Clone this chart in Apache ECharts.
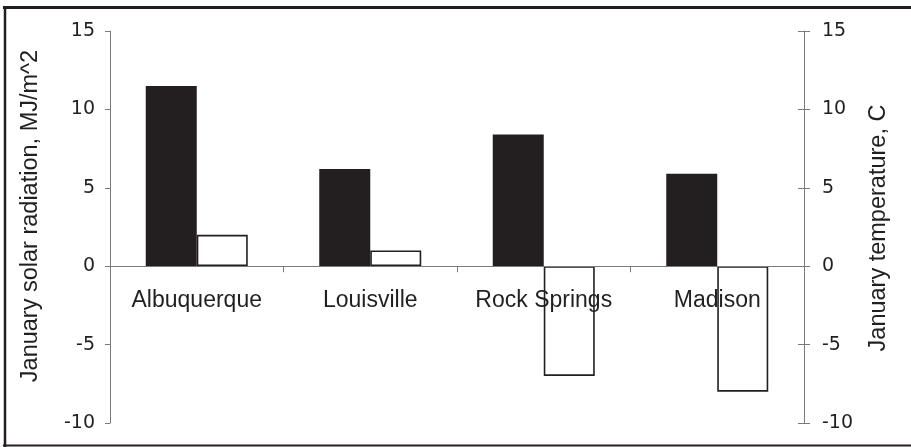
<!DOCTYPE html>
<html>
<head>
<meta charset="utf-8">
<script src="https://cdn.jsdelivr.net/npm/echarts@6/dist/echarts.min.js"></script>
<style>
  html, body { margin: 0; padding: 0; background: #fff; }
  #chart { width: 911px; height: 447px; }
</style>
</head>
<body>
<div id="chart"></div>
<script>
// City categories along the x axis
const cities = ['Albuquerque', 'Louisville', 'Rock Springs', 'Madison'];
// January mean daily solar radiation, MJ/m^2 (left axis)
const solarRadiation = [11.5, 6.2, 8.4, 5.9];
// January mean temperature, C (right axis)
const temperature = [2, 1, -7, -8];
// Shared value-axis range
const axisMin = -10;
const axisMax = 15;
const axisStep = 5;

const ink = '#231f20';
const axisGray = '#7a7a7a';
const tickFont = { fontFamily: 'DejaVu Sans', fontSize: 19, color: ink };

// plot area geometry
const gridTop = 31;
const gridHeight = 392;
// lift the category axis from the bottom edge up to the value 0
const zeroOffset = -gridHeight * (0 - axisMin) / (axisMax - axisMin);

const chart = echarts.init(document.getElementById('chart'), null, { renderer: 'canvas' });

chart.setOption({
  backgroundColor: '#ffffff',
  animation: false,
  grid: { left: 110, right: 107, top: gridTop, height: gridHeight, containLabel: false },
  xAxis: {
    type: 'category',
    data: cities,
    position: 'bottom',
    offset: zeroOffset,
    z: 10,
    axisLine: { onZero: false, lineStyle: { color: axisGray, width: 1 } },
    axisTick: { show: true, length: 6, inside: false, lineStyle: { color: axisGray } },
    axisLabel: { interval: 0, margin: 23, fontFamily: 'Liberation Sans', fontSize: 23, color: ink },
    splitLine: { show: false }
  },
  yAxis: [
    {
      type: 'value', position: 'left',
      min: axisMin, max: axisMax, interval: axisStep,
      axisLine: { show: true, onZero: false, lineStyle: { color: axisGray } },
      axisTick: { show: true, length: 5, lineStyle: { color: axisGray } },
      axisLabel: Object.assign({ margin: 15 }, tickFont),
      splitLine: { show: false }
    },
    {
      type: 'value', position: 'right',
      min: axisMin, max: axisMax, interval: axisStep,
      axisLine: { show: true, onZero: false, lineStyle: { color: axisGray } },
      axisTick: { show: true, length: 6, lineStyle: { color: axisGray } },
      axisLabel: Object.assign({ margin: 18 }, tickFont),
      splitLine: { show: false }
    },
    {
      // inner half of the crossing ticks on the right axis
      type: 'value', position: 'right',
      min: axisMin, max: axisMax, interval: axisStep,
      axisLine: { show: false, onZero: false },
      axisTick: { show: true, inside: true, length: 6, lineStyle: { color: axisGray } },
      axisLabel: { show: false },
      splitLine: { show: false }
    }
  ],
  series: [
    {
      name: 'January solar radiation, MJ/m^2',
      type: 'bar',
      yAxisIndex: 0,
      data: solarRadiation,
      barWidth: 51,
      barGap: '0%',
      itemStyle: { color: ink }
    },
    {
      name: 'January temperature, C',
      type: 'bar',
      yAxisIndex: 1,
      data: temperature,
      barWidth: 51,
      barGap: '0%',
      itemStyle: { color: '#ffffff', borderColor: ink, borderWidth: 1.6 }
    }
  ],
  graphic: [
    {
      type: 'text', x: 31, y: 216, rotation: Math.PI / 2,
      style: {
        text: 'January solar radiation, MJ/m^2',
        fontFamily: 'Liberation Sans', fontSize: 23.5, fill: ink,
        textAlign: 'center', textVerticalAlign: 'middle'
      }
    },
    {
      type: 'text', x: 879, y: 228, rotation: Math.PI / 2,
      style: {
        text: 'January temperature, C',
        fontFamily: 'Liberation Sans', fontSize: 23.5, fill: ink,
        textAlign: 'center', textVerticalAlign: 'middle'
      }
    },
    // chart frame
    { type: 'line', shape: { x1: 3, y1: 7.5, x2: 911, y2: 7.5 }, style: { stroke: ink, lineWidth: 3 } },
    { type: 'line', shape: { x1: 5, y1: 6, x2: 5, y2: 447 }, style: { stroke: ink, lineWidth: 2.5 } },
    { type: 'line', shape: { x1: 3, y1: 445.5, x2: 911, y2: 445.5 }, style: { stroke: ink, lineWidth: 2 } }
  ]
});
</script>
</body>
</html>
